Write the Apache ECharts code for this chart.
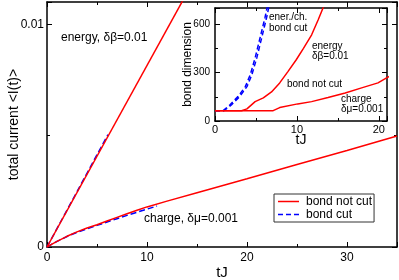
<!DOCTYPE html>
<html><head><meta charset="utf-8">
<script src="https://cdn.jsdelivr.net/npm/echarts@6/dist/echarts.min.js"></script>
<style>html,body{margin:0;padding:0;background:#fff}#c{width:399px;height:280px}</style>
</head><body><div id="c"></div>
<script>
// ---- main panel data ----
var energyT = [0, 14];
var energyNotCut = [0, 0.01141];
var energyCutT = [0, 6.1];
var energyCut = [0, 0.00505];
var chargeT = [0, 0.5, 1, 2, 3, 4, 5, 6, 7, 8, 9, 10, 12, 15, 20, 25, 30, 35];
var chargeNotCut = [0, 0.00013, 0.00025, 0.00048, 0.00068, 0.00085, 0.001, 0.00117, 0.00133, 0.00149, 0.00165, 0.0018, 0.00206, 0.00244, 0.00306, 0.0037, 0.00433, 0.00498];
var chargeCutT = [0, 0.5, 1, 2, 3, 4, 5, 6, 7, 8, 9, 10, 11];
var chargeCut = [0, 0.00013, 0.00025, 0.00047, 0.00066, 0.00082, 0.00097, 0.00112, 0.00127, 0.00142, 0.00156, 0.0017, 0.00184];
var mainXTicks = ['0', '10', '20', '30'];
var mainYTicks = ['0', '0.01'];
// ---- inset data (bond dimension) ----
var cutAT = [0, 1, 1.8, 2.8, 3.7, 4.3, 4.9, 5.5, 6.1, 6.6];
var cutBT = [0, 1.1, 2.0, 3.0, 3.9, 4.5, 5.1, 5.7, 6.3, 6.8];
var cutD = [64, 64, 99, 151, 213, 286, 391, 515, 640, 760];
var insEnergyT = [0, 3.25, 3.9, 4.9, 5.9, 6.9, 7.9, 8.9, 9.9, 10.8, 11.8, 12.6, 13.2, 13.6];
var insEnergyD = [64, 64, 75, 120, 143, 180, 236, 306, 378, 450, 534, 627, 702, 760];
var insChargeT = [0, 7.1, 7.9, 10.1, 11.8, 13.8, 15.9, 17.9, 19.9, 21, 21.5];
var insChargeD = [64, 64, 83, 106, 120, 145, 174, 205, 236, 269, 282];

function zip(a, b) { return a.map(function (v, i) { return [v, b[i]]; }); }

var FONT = 'Liberation Sans';
var RED = '#ff0000', BLUE = '#0000ff';
var chart = echarts.init(document.getElementById('c'), null, {renderer: 'canvas'});

function axisBase(o) {
  var base = {
    type: 'value',
    nameMoveOverlap: false,
    axisLine: {show: true, onZero: false, lineStyle: {color: '#000', width: 1.5}},
    axisTick: {show: true, inside: true, length: 5, lineStyle: {color: '#000', width: 1}},
    minorTick: {show: true, splitNumber: 2, length: 3, lineStyle: {color: '#000', width: 1}},
    splitLine: {show: false},
    nameTextStyle: {color: '#000', fontFamily: FONT}
  };
  for (var k in o) base[k] = o[k];
  return base;
}
function mirror(o) {
  var a = axisBase(o);
  a.axisLabel = {show: false};
  return a;
}

var option = {
  animation: false,
  backgroundColor: '#fff',
  grid: [
    {left: 47, right: 2, top: 2, bottom: 33, containLabel: false, outerBoundsMode: 'none'},
    {left: 215, width: 172, top: 8, height: 113, show: true, backgroundColor: '#fff', borderWidth: 0, z: 5, containLabel: false, outerBoundsMode: 'none'}
  ],
  xAxis: [
    axisBase({gridIndex: 0, min: 0, max: 35, interval: 10, position: 'bottom',
      axisLabel: {color: '#000', fontFamily: FONT, fontSize: 12, margin: 5, showMaxLabel: false,
        formatter: function (v) { return mainXTicks[Math.round(v / 10)] || ''; }},
      name: 'tJ', nameLocation: 'middle', nameGap: 18, nameTextStyle: {color: '#000', fontFamily: FONT, fontSize: 15}}),
    mirror({gridIndex: 0, min: 0, max: 35, interval: 10, position: 'top'}),
    axisBase({gridIndex: 1, min: 0, max: 21, interval: 10, position: 'bottom', z: 6,
      axisLabel: {color: '#000', fontFamily: FONT, fontSize: 11, margin: 3, showMaxLabel: false},
      name: 'tJ', nameLocation: 'middle', nameGap: 12, nameTextStyle: {color: '#000', fontFamily: FONT, fontSize: 14}}),
    mirror({gridIndex: 1, min: 0, max: 21, interval: 10, position: 'top', z: 6})
  ],
  yAxis: [
    axisBase({gridIndex: 0, min: 0, max: 0.011, interval: 0.01, position: 'left',
      axisLabel: {color: '#000', fontFamily: FONT, fontSize: 12, margin: 3, showMaxLabel: false,
        formatter: function (v) { return mainYTicks[Math.round(v / 0.01)] || ''; }},
      name: 'total current <I(t)>', nameLocation: 'middle', nameGap: 26, nameRotate: 90,
      nameTextStyle: {color: '#000', fontFamily: FONT, fontSize: 14}}),
    mirror({gridIndex: 0, min: 0, max: 0.011, interval: 0.01, position: 'right'}),
    axisBase({gridIndex: 1, min: 0, max: 700, interval: 300, position: 'left', z: 6,
      axisLabel: {color: '#000', fontFamily: FONT, fontSize: 10, margin: 5, showMaxLabel: false},
      name: 'bond dimension', nameLocation: 'middle', nameGap: 21, nameRotate: 90,
      nameTextStyle: {color: '#000', fontFamily: FONT, fontSize: 12}}),
    mirror({gridIndex: 1, min: 0, max: 700, interval: 300, position: 'right', z: 6})
  ],
  legend: {
    data: [
      {name: 'bond not cut', icon: 'path://M0,0h21v1.5h-21z'},
      {name: 'bond cut', icon: 'path://M0,0h5v1.5h-5z M8,0h5v1.5h-5z M16,0h5v1.5h-5z'}
    ],
    orient: 'vertical', left: 274, top: 194,
    padding: [1, 2, 1, 4], itemGap: 0, itemWidth: 21, itemHeight: 1.5,
    borderColor: '#333', borderWidth: 1, backgroundColor: '#fff',
    textStyle: {color: '#000', fontFamily: FONT, fontSize: 12, padding: [0, 0, 0, 2], lineHeight: 13},
    selectedMode: false
  },
  series: [
    {name: 'bond not cut', type: 'line', xAxisIndex: 0, yAxisIndex: 0, data: zip(chargeT, chargeNotCut),
      showSymbol: false, symbol: 'none', lineStyle: {color: RED, width: 1.5}, itemStyle: {color: RED}, z: 2},
    {name: 'bond cut', type: 'line', xAxisIndex: 0, yAxisIndex: 0, data: zip(chargeCutT, chargeCut),
      showSymbol: false, symbol: 'none', lineStyle: {color: BLUE, width: 1.5, type: [6, 3]}, itemStyle: {color: BLUE}, z: 1},
    {name: 'energy cut', type: 'line', xAxisIndex: 0, yAxisIndex: 0, data: zip(energyCutT, energyCut),
      showSymbol: false, symbol: 'none', lineStyle: {color: BLUE, width: 1.5, type: [6, 3]}, z: 1},
    {name: 'energy not cut', type: 'line', xAxisIndex: 0, yAxisIndex: 0, data: zip(energyT, energyNotCut),
      showSymbol: false, symbol: 'none', lineStyle: {color: RED, width: 1.5}, z: 2},
    {name: 'ins cut A', type: 'line', xAxisIndex: 2, yAxisIndex: 2, data: zip(cutAT, cutD),
      showSymbol: false, symbol: 'none', lineStyle: {color: BLUE, width: 1.5, type: [5, 3]}, z: 7},
    {name: 'ins cut B', type: 'line', xAxisIndex: 2, yAxisIndex: 2, data: zip(cutBT, cutD),
      showSymbol: false, symbol: 'none', lineStyle: {color: BLUE, width: 1.5, type: [5, 3]}, z: 7},
    {name: 'ins energy', type: 'line', xAxisIndex: 2, yAxisIndex: 2, data: zip(insEnergyT, insEnergyD),
      showSymbol: false, symbol: 'none', lineStyle: {color: RED, width: 1.5}, z: 7},
    {name: 'ins charge', type: 'line', xAxisIndex: 2, yAxisIndex: 2, data: zip(insChargeT, insChargeD),
      showSymbol: false, symbol: 'none', lineStyle: {color: RED, width: 1.5}, z: 7}
  ],
  graphic: [
    {type: 'text', left: 61, top: 32, z: 10, style: {text: 'energy, δβ=0.01', fill: '#000', font: '12px "Liberation Sans"'}},
    {type: 'text', left: 144, top: 213, z: 10, style: {text: 'charge, δμ=0.001', fill: '#000', font: '12px "Liberation Sans"'}},
    {type: 'text', left: 269, top: 12, z: 10, style: {text: 'ener./ch.\nbond cut', fill: '#000', font: '10px "Liberation Sans"', lineHeight: 11}},
    {type: 'text', left: 312, top: 41, z: 10, style: {text: 'energy\nδβ=0.01', fill: '#000', font: '10px "Liberation Sans"', lineHeight: 10}},
    {type: 'text', left: 287, top: 79, z: 10, style: {text: 'bond not cut', fill: '#000', font: '10px "Liberation Sans"'}},
    {type: 'text', left: 341, top: 94, z: 10, style: {text: 'charge\nδμ=0.001', fill: '#000', font: '10px "Liberation Sans"', lineHeight: 10}}
  ]
};
chart.setOption(option);
</script></body></html>
